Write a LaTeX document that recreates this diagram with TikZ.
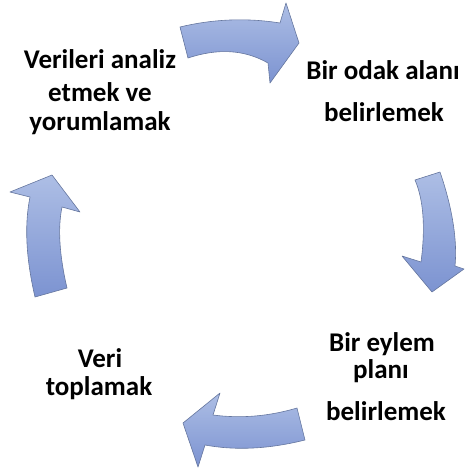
\documentclass[tikz,border=0pt]{standalone}
\usepackage{fontspec}
\setmainfont{Carlito}
\definecolor{arrowlight}{HTML}{ADBEE5}
\definecolor{arrowdark}{HTML}{7C93D1}
\definecolor{arrowedge}{HTML}{65769E}
\tikzset{
  cyclearrow/.style={draw=arrowedge, line width=0.6pt, line join=round, top color=arrowlight, bottom color=arrowdark},
  lbl/.style={anchor=base, inner sep=0pt, font=\fontsize{27}{32}\selectfont\bfseries}
}
\begin{document}
\begin{tikzpicture}[x=1pt,y=-1pt]
\useasboundingbox (0,0) rectangle (465,469);
% top arrow
\shadedraw[cyclearrow] (180,27) .. controls (213.3,19) and (246.7,17.7) .. (280,23)
  -- (286,3) -- (299,43) -- (270,83) -- (268,63)
  .. controls (244,49.3) and (217.3,48.3) .. (188,58) -- cycle;
% right arrow
\shadedraw[cyclearrow] (415,180) -- (440,172)
  .. controls (453.3,210.7) and (457.3,242.7) .. (455,266)
  -- (464,269) -- (432,292) -- (402,256) -- (421,262)
  .. controls (425.7,226.7) and (423.3,199.3) .. (415,180) -- cycle;
% bottom arrow
\shadedraw[cyclearrow] (297,408) .. controls (269,416.3) and (241,418.7) .. (213,415)
  -- (220,393) -- (183,423) -- (198,467) -- (205,445)
  .. controls (235.7,450.7) and (269,449) .. (305,440) -- cycle;
% left arrow
\shadedraw[cyclearrow] (35,297) -- (67,288)
  .. controls (59.3,255) and (57.7,228) .. (62,207)
  -- (80,212) -- (52,175) -- (10,192) -- (30,197)
  .. controls (24.3,225) and (26,258.3) .. (35,297) -- cycle;
% texts
\node[lbl] (a1) at (100,68) {Verileri analiz};
\node[lbl] (a2) at (100,101) {etmek ve};
\node[lbl] (a3) at (100,130) {yorumlamak};
\node[lbl] (b1) at (383,79) {Bir odak alanı};
\node[lbl] (b2) at (384,121) {belirlemek};
\node[lbl] (c1) at (382,351) {Bir eylem};
\node[lbl] (c2) at (381,378) {planı};
\node[lbl] (c3) at (386,420) {belirlemek};
\node[lbl] (d1) at (100,367) {Veri};
\node[lbl] (d2) at (99,395) {toplamak};
\end{tikzpicture}
\end{document}
